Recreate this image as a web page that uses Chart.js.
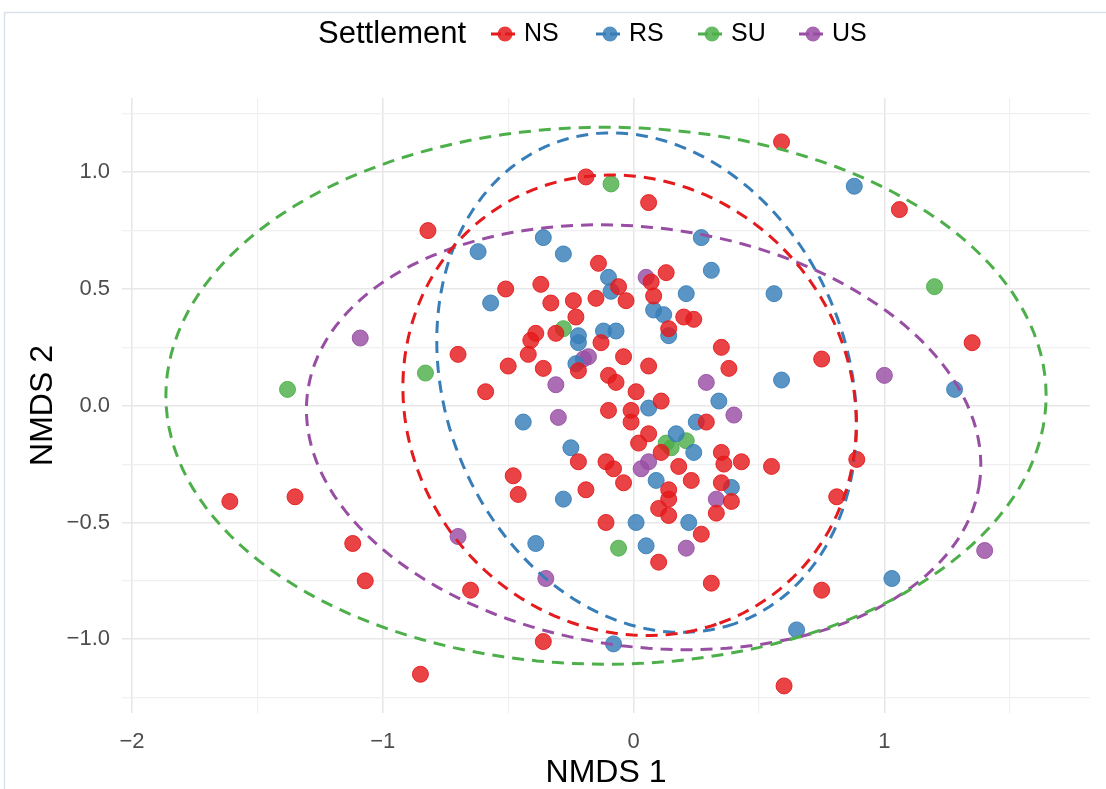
<!DOCTYPE html>
<html>
<head>
<meta charset="utf-8">
<script src="https://cdn.jsdelivr.net/npm/chart.js@4.4.1/dist/chart.umd.min.js"></script>
<style>
  html, body { margin: 0; padding: 0; background: #ffffff; }
  #wrap { width: 1106px; height: 789px; position: relative; }
</style>
</head>
<body>
<div id="wrap"><canvas id="c" width="1106" height="789"></canvas></div>
<script>
// Settlement groups and their Set1 colours
const groups = ['NS', 'RS', 'SU', 'US'];
const groupColors = ['#E41A1C', '#377EB8', '#4DAF4A', '#984EA3'];

// NMDS site scores per settlement type
const nsX = [0.59,1.06,-0.82,-0.19,0.06,1.35,0.75,0.89,0.81,0.55,0.75,0.60,-1.61,-1.35,-1.12,-1.07,-0.85,-0.14,0.07,0.13,-0.51,-0.37,-0.06,-0.03,-0.15,-0.24,-0.33,0.08,0.20,0.24,0.14,-0.23,-0.39,-0.41,-0.42,-0.31,-0.13,-0.04,-0.22,-0.50,-0.36,-0.10,-0.07,0.06,0.01,-0.59,-0.70,-0.10,-0.01,0.11,-0.01,0.06,0.02,-0.22,-0.11,-0.08,-0.04,0.11,0.18,0.14,0.14,0.10,0.14,-0.48,-0.46,-0.19,-0.11,0.10,0.29,0.35,0.36,0.43,0.23,0.35,0.39,0.33,0.27,0.31,-0.65,-0.36,0.35,0.38];
const nsY = [1.13,0.84,0.75,0.98,0.87,0.27,0.20,-0.23,-0.39,-0.26,-0.79,-1.20,-0.41,-0.39,-0.59,-0.75,-1.15,0.61,0.53,0.57,0.50,0.52,0.51,0.45,0.46,0.45,0.44,0.47,0.38,0.37,0.33,0.38,0.31,0.28,0.22,0.31,0.27,0.21,0.15,0.17,0.16,0.13,0.10,0.17,0.06,0.06,0.22,-0.02,-0.02,0.02,-0.07,-0.12,-0.16,-0.24,-0.24,-0.27,-0.33,-0.20,-0.26,-0.36,-0.40,-0.44,-0.47,-0.30,-0.38,-0.36,-0.50,-0.67,-0.07,-0.20,-0.25,-0.24,-0.32,-0.33,-0.41,-0.46,-0.55,-0.76,-0.79,-1.01,0.25,0.16];

const rsX = [0.88,-0.62,-0.36,-0.28,0.27,0.31,-0.10,-0.09,-0.57,0.21,0.56,0.08,0.12,0.14,-0.22,-0.22,-0.12,-0.07,-0.23,0.59,1.28,0.34,0.06,0.25,-0.44,0.17,0.24,-0.25,0.09,0.39,-0.28,0.01,0.22,-0.39,0.05,0.65,1.03,-0.08];
const rsY = [0.94,0.66,0.72,0.65,0.72,0.58,0.55,0.49,0.44,0.48,0.48,0.41,0.39,0.30,0.30,0.27,0.32,0.32,0.18,0.11,0.07,0.02,-0.01,-0.07,-0.07,-0.12,-0.20,-0.18,-0.32,-0.35,-0.40,-0.50,-0.50,-0.59,-0.60,-0.96,-0.74,-1.02];

const suX = [-0.09,1.20,-0.28,-0.83,-1.38,0.13,0.15,0.21,-0.06];
const suY = [0.95,0.51,0.33,0.14,0.07,-0.16,-0.18,-0.15,-0.61];

const usX = [0.05,-1.09,-0.18,-0.20,-0.31,0.29,1.00,-0.30,0.40,0.06,0.03,0.33,-0.70,-0.35,0.21,1.40];
const usY = [0.55,0.29,0.21,0.20,0.09,0.10,0.13,-0.05,-0.04,-0.24,-0.27,-0.40,-0.56,-0.74,-0.61,-0.62];

// 95% ellipse parameters per group (centre, semi-axes, rotation in degrees)
const ellipseCenterX = [-0.016, 0.052, -0.11, 0.04];
const ellipseCenterY = [0.002, 0.099, 0.043, -0.135];
const ellipseSemiA   = [1.00, 1.091, 1.755, 1.354];
const ellipseSemiB   = [0.889, 0.809, 1.15, 0.896];
const ellipseAngle   = [-69, -73, 0, -9];

// Axis ticks
const xTickLabels = [-2, -1, 0, 1];
const yTickLabels = [-1.0, -0.5, 0.0, 0.5, 1.0];

const seriesX = [nsX, rsX, suX, usX];
const seriesY = [nsY, rsY, suY, usY];

const FONT = '"Liberation Sans", Arial, sans-serif';

function hexToRgba(hex, a) {
  const n = parseInt(hex.slice(1), 16);
  return `rgba(${(n >> 16) & 255},${(n >> 8) & 255},${n & 255},${a})`;
}

function ellipseOutline(i) {
  const pts = [];
  const th = ellipseAngle[i] * Math.PI / 180;
  const steps = 160;
  for (let k = 0; k <= steps; k++) {
    const t = (k / steps) * 2 * Math.PI;
    const ca = ellipseSemiA[i] * Math.cos(t), sb = ellipseSemiB[i] * Math.sin(t);
    pts.push({
      x: ellipseCenterX[i] + ca * Math.cos(th) - sb * Math.sin(th),
      y: ellipseCenterY[i] + ca * Math.sin(th) + sb * Math.cos(th)
    });
  }
  return pts;
}

const pointSets = groups.map((g, i) => ({
  label: g,
  data: seriesX[i].map((x, j) => ({ x, y: seriesY[i][j] })),
  backgroundColor: hexToRgba(groupColors[i], 0.82),
  borderColor: hexToRgba(groupColors[i], 0.9),
  borderWidth: 1,
  pointRadius: 8,
  pointHoverRadius: 8,
  order: 2
}));

const ellipseSets = groups.map((g, i) => ({
  label: g + ' ellipse',
  data: ellipseOutline(i),
  showLine: true,
  borderColor: groupColors[i],
  borderWidth: 3,
  borderDash: [12, 8],
  pointRadius: 0,
  pointHoverRadius: 0,
  fill: false,
  tension: 0,
  order: 1
}));

const isMultiple = (v, step) => Math.abs(v / step - Math.round(v / step)) < 1e-6;
const minusSign = (s) => s.replace('-', '\u2212');

// light frame around the figure
const framePlugin = {
  id: 'frame',
  beforeDraw(chart) {
    const c = chart.ctx;
    c.save();
    c.fillStyle = '#ffffff';
    c.fillRect(0, 0, chart.width, chart.height);
    c.strokeStyle = '#d9e1ec';
    c.lineWidth = 1.5;
    c.strokeRect(4.5, 12.5, chart.width + 10, chart.height + 10);
    c.restore();
  }
};

// legend row: title followed by point-and-dash keys
const legendPlugin = {
  id: 'settlementLegend',
  afterDraw(chart) {
    const c = chart.ctx;
    const cy = 34;
    c.save();
    c.textBaseline = 'middle';
    c.fillStyle = '#000000';
    c.font = '31px ' + FONT;
    c.fillText('Settlement', 318, cy);
    const keyX = [505, 610, 712, 813];
    c.font = '25px ' + FONT;
    groups.forEach((g, i) => {
      const kx = keyX[i];
      c.strokeStyle = groupColors[i];
      c.lineWidth = 3;
      c.setLineDash([10, 4]);
      c.beginPath();
      c.moveTo(kx - 14, cy);
      c.lineTo(kx + 14, cy);
      c.stroke();
      c.setLineDash([]);
      c.fillStyle = hexToRgba(groupColors[i], 0.85);
      c.beginPath();
      c.arc(kx, cy, 7.5, 0, Math.PI * 2);
      c.fill();
      c.fillStyle = '#000000';
      c.fillText(g, kx + 19, cy);
    });
    c.restore();
  }
};

const gridColor = (step) => (ctx) => isMultiple(ctx.tick.value, step) ? '#e7e7e7' : '#f0f0f0';
const gridWidth = (step) => (ctx) => isMultiple(ctx.tick.value, step) ? 1.6 : 1.2;

new Chart(document.getElementById('c'), {
  type: 'scatter',
  data: { datasets: [...ellipseSets, ...pointSets] },
  options: {
    responsive: false,
    animation: false,
    devicePixelRatio: 1,
    layout: { padding: { left: 0, right: 16, top: 98, bottom: 0 } },
    plugins: { legend: { display: false }, tooltip: { enabled: false } },
    scales: {
      x: {
        type: 'linear',
        min: -2.04,
        max: 1.82,
        border: { display: false },
        grid: { color: gridColor(1), lineWidth: gridWidth(1), drawTicks: false },
        ticks: {
          stepSize: 0.5,
          includeBounds: false,
          autoSkip: false,
          maxRotation: 0,
          padding: 16,
          color: '#4d4d4d',
          font: { family: FONT, size: 22 },
          callback: (v) => (isMultiple(v, 1) && xTickLabels.includes(Math.round(v))) ? minusSign(String(Math.round(v))) : ''
        },
        title: {
          display: true,
          text: 'NMDS 1',
          color: '#000000',
          font: { family: FONT, size: 32, lineHeight: 1 },
          padding: { top: 0, bottom: 0 }
        },
        afterFit(s) { s.height = 76; }
      },
      y: {
        type: 'linear',
        min: -1.316,
        max: 1.318,
        border: { display: false },
        grid: { color: gridColor(0.5), lineWidth: gridWidth(0.5), drawTicks: false },
        ticks: {
          stepSize: 0.25,
          includeBounds: false,
          autoSkip: false,
          padding: 12,
          color: '#4d4d4d',
          font: { family: FONT, size: 22 },
          callback: (v) => {
            if (!isMultiple(v, 0.5)) return '';
            const r = Math.round(v * 2) / 2;
            return yTickLabels.includes(r) ? minusSign(r.toFixed(1)) : '';
          }
        },
        title: {
          display: true,
          text: 'NMDS 2',
          color: '#000000',
          font: { family: FONT, size: 32, lineHeight: 1 },
          padding: { top: 27, bottom: 0 }
        },
        afterFit(s) { s.width = 122; }
      }
    }
  },
  plugins: [framePlugin, legendPlugin]
});
</script>
</body>
</html>
